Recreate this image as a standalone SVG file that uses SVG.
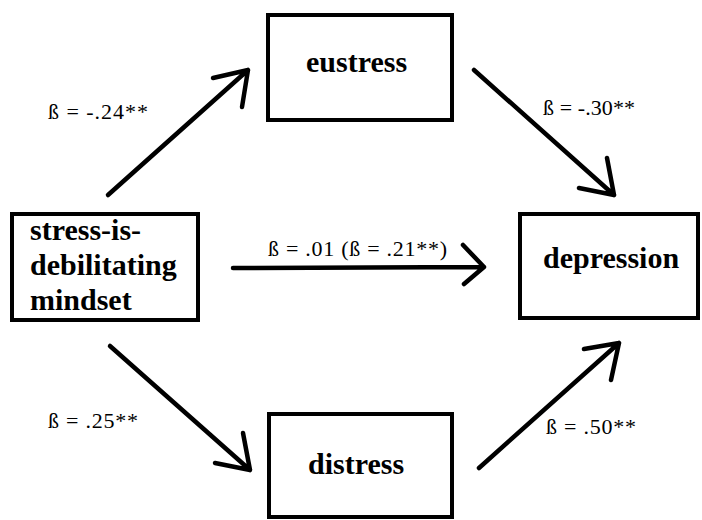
<svg xmlns="http://www.w3.org/2000/svg" width="702" height="520" viewBox="0 0 702 520">
<style>
.box{fill:#fff;stroke:#000;stroke-width:4}
.lbl{font-family:"Liberation Serif","Times New Roman",serif;font-weight:bold;font-size:30px;fill:#000}
.coef{font-family:"Liberation Serif","Times New Roman",serif;font-size:22px;fill:#000}
.arr{fill:none;stroke:#000;stroke-width:4.5;stroke-linecap:round;stroke-linejoin:round}
</style>
<rect width="702" height="520" fill="#fff"/>
<g id="connectors">
<path class="arr" d="M108 195 L248 70 M213 78 L248 70 L242 107"/>
<path class="arr" d="M474 70 L614 195 M579 188 L614 195 L607 158"/>
<path class="arr" d="M233 268 L484 267 M463 245 L484 267 L464 284"/>
<path class="arr" d="M110 346 L250 470 M243 433 L250 470 L215 463"/>
<path class="arr" d="M479 468 L619 343 M584 349 L619 343 L611 380"/>
<text class="coef" x="48" y="119" textLength="100" lengthAdjust="spacing">ß = -.24**</text>
<text class="coef" x="543" y="115" textLength="92" lengthAdjust="spacing">ß = -.30**</text>
<text class="coef" x="268" y="256" textLength="179" lengthAdjust="spacing">ß = .01 (ß = .21**)</text>
<text class="coef" x="48" y="428" textLength="90" lengthAdjust="spacing">ß = .25**</text>
<text class="coef" x="546" y="434" textLength="90" lengthAdjust="spacing">ß = .50**</text>
</g>
<g id="eustress">
<rect class="box" x="268" y="15" width="184" height="105"/>
<text class="lbl" x="306" y="72">eustress</text>
</g>
<g id="mindset">
<rect class="box" x="12" y="214" width="186" height="106"/>
<text class="lbl" x="30" y="240">stress-is-</text>
<text class="lbl" x="30" y="275">debilitating</text>
<text class="lbl" x="30" y="310">mindset</text>
</g>
<g id="depression">
<rect class="box" x="520" y="214" width="178" height="104"/>
<text class="lbl" x="543" y="268">depression</text>
</g>
<g id="distress">
<rect class="box" x="269" y="414" width="183" height="103"/>
<text class="lbl" x="308" y="474">distress</text>
</g>
</svg>
